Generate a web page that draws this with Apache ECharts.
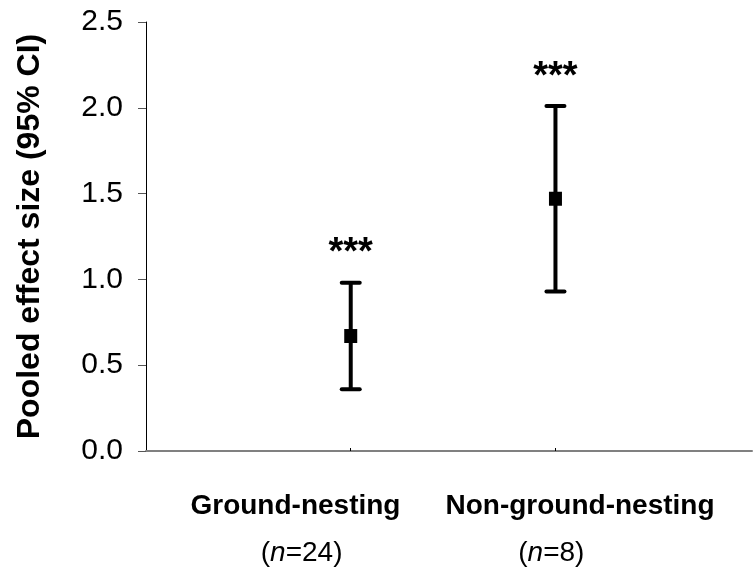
<!DOCTYPE html>
<html>
<head>
<meta charset="utf-8">
<script src="https://cdn.jsdelivr.net/npm/echarts@6/dist/echarts.min.js"></script>
<style>
  html, body { margin: 0; padding: 0; background: #fff; }
  #chart { width: 753px; height: 567px; }
</style>
</head>
<body>
<div id="chart"></div>
<script>
// Pooled effect sizes with 95% confidence intervals per nesting group
const groups = ['Ground-nesting', 'Non-ground-nesting'];
const counts = [24, 8];
const groupX = [1, 2];
const effect = [0.67, 1.47];
const ciLow = [0.36, 0.93];
const ciHigh = [0.98, 2.01];
const signif = ['***', '***'];
const yTicks = [0, 0.5, 1.0, 1.5, 2.0, 2.5];

const FONT = 'Arial, "Liberation Sans", sans-serif';

// positions of the group captions along the x scale
const nameAt = [0.73, 2.12];
const countAt = [0.76, 1.98];

const chart = echarts.init(document.getElementById('chart'), null, { renderer: 'canvas' });

const option = {
  animation: false,
  backgroundColor: '#ffffff',
  grid: { left: 146, right: 1, top: 22, bottom: 114, containLabel: false },
  xAxis: [
    {
      type: 'value', min: 0, max: 2.96,
      axisLine: { show: true, lineStyle: { color: '#808080', width: 2 } },
      axisTick: { show: true, inside: true, length: 3, customValues: groupX, lineStyle: { color: '#000', width: 1 } },
      splitLine: { show: false },
      axisLabel: {
        customValues: nameAt,
        margin: 41,
        fontFamily: FONT, fontSize: 28, fontWeight: 'bold', color: '#000',
        formatter: v => groups[nameAt.indexOf(v)]
      }
    },
    {
      type: 'value', min: 0, max: 2.96, position: 'bottom',
      axisLine: { show: false }, axisTick: { show: false }, splitLine: { show: false },
      axisLabel: {
        customValues: countAt,
        margin: 88,
        color: '#000',
        formatter: v => '{p|(}{i|n}{p|=' + counts[countAt.indexOf(v)] + ')}',
        rich: {
          p: { fontFamily: FONT, fontSize: 28, color: '#000' },
          i: { fontFamily: FONT, fontSize: 28, fontStyle: 'italic', color: '#000' }
        }
      }
    }
  ],
  yAxis: {
    type: 'value', min: yTicks[0], max: yTicks[yTicks.length - 1], interval: 0.5,
    name: 'Pooled effect size (95% CI)',
    nameLocation: 'middle', nameGap: 100, nameRotate: 90,
    nameTextStyle: { fontFamily: FONT, fontSize: 32, fontWeight: 'bold', color: '#000' },
    axisLine: { show: true, lineStyle: { color: '#000', width: 1 } },
    axisTick: { show: true, length: 8, lineStyle: { color: '#555', width: 1 } },
    splitLine: { show: false },
    axisLabel: {
      margin: 23, fontFamily: FONT, fontSize: 30, color: '#000',
      formatter: v => v.toFixed(1)
    }
  },
  series: [
    {
      // confidence interval whiskers
      type: 'custom',
      xAxisIndex: 0,
      data: groupX.map((x, i) => [x, ciLow[i], ciHigh[i]]),
      renderItem: (params, api) => {
        const x = api.value(0);
        const lo = api.coord([x, api.value(1)]);
        const hi = api.coord([x, api.value(2)]);
        const half = 9;
        const style = { stroke: '#000', lineWidth: 4, lineCap: 'round' };
        return {
          type: 'group',
          children: [
            { type: 'line', shape: { x1: lo[0], y1: lo[1], x2: hi[0], y2: hi[1] }, style: { stroke: '#000', lineWidth: 4 } },
            { type: 'line', shape: { x1: hi[0] - half, y1: hi[1], x2: hi[0] + half, y2: hi[1] }, style },
            { type: 'line', shape: { x1: lo[0] - half, y1: lo[1], x2: lo[0] + half, y2: lo[1] }, style }
          ]
        };
      },
      z: 2
    },
    {
      // pooled estimates
      type: 'scatter',
      xAxisIndex: 0,
      symbol: 'rect',
      symbolSize: [13, 14],
      itemStyle: { color: '#000', opacity: 1 },
      data: groupX.map((x, i) => [x, effect[i]]),
      z: 3
    },
    {
      // significance stars above each interval
      type: 'scatter',
      xAxisIndex: 0,
      symbolSize: 0,
      itemStyle: { opacity: 1 },
      data: groupX.map((x, i) => [x, ciHigh[i]]),
      label: {
        show: true, position: 'top', distance: 10,
        fontFamily: FONT, fontSize: 38, fontWeight: 'bold', color: '#000', opacity: 1,
        formatter: p => signif[p.dataIndex]
      },
      z: 4
    }
  ]
};

chart.setOption(option);
</script>
</body>
</html>
